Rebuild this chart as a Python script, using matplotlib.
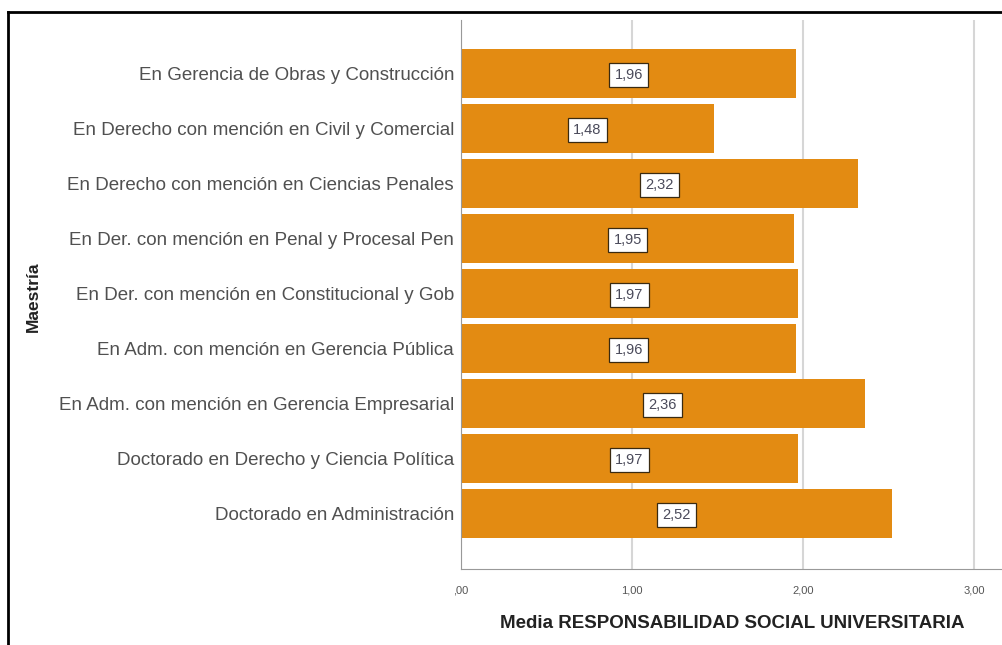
import matplotlib
matplotlib.use("Agg")
import matplotlib.pyplot as plt
from matplotlib.lines import Line2D

plt.rcParams['font.family'] = ['Liberation Sans', 'DejaVu Sans']

categorias = [
    "En Gerencia de Obras y Construcción",
    "En Derecho con mención en Civil y Comercial",
    "En Derecho con mención en Ciencias Penales",
    "En Der. con mención en Penal y Procesal Pen",
    "En Der. con mención en Constitucional y Gob",
    "En Adm. con mención en Gerencia Pública",
    "En Adm. con mención en Gerencia Empresarial",
    "Doctorado en Derecho y Ciencia Política",
    "Doctorado en Administración",
]
medias = [1.96, 1.48, 2.32, 1.95, 1.97, 1.96, 2.36, 1.97, 2.52]
ticks_x = [0, 1, 2, 3]
ticks_lbl = [",00", "1,00", "2,00", "3,00"]

W, H = 1003, 645
fig = plt.figure(figsize=(W / 100, H / 100), dpi=100)
ax = fig.add_axes([461 / W, 1 - 569 / H, (W - 461) / W, (569 - 20) / H])

pos = list(range(len(categorias)))
ax.barh(pos, medias, height=0.89, color="#E38B12", zorder=2)
for p, v in zip(pos, medias):
    ax.text(v / 2, p, f"{v:.2f}".replace(".", ","), ha="center", va="center_baseline",
            fontsize=10.5, color="#4a4a5a", zorder=3,
            bbox=dict(boxstyle="square,pad=0.35", fc="white", ec="#3a2a10", lw=0.9))

ax.set_ylim(len(categorias) - 1 + 1.01, -0.97)
ax.set_xlim(0, (W - 461) / 171.0)
ax.set_yticks(pos)
ax.set_yticklabels(categorias, fontsize=13.5, color="#505050")
ax.set_xticks(ticks_x)
ax.set_xticklabels(ticks_lbl, fontsize=8, color="#555555")
ax.tick_params(axis="both", length=0)
ax.tick_params(axis="y", pad=5)
ax.tick_params(axis="x", pad=12)
ax.xaxis.grid(True, color="#d6d6d6", lw=1.5, zorder=0)
ax.set_axisbelow(True)
for s in ["top", "right"]:
    ax.spines[s].set_visible(False)
ax.spines["left"].set_color("#999999")
ax.spines["bottom"].set_color("#999999")

ax.set_xlabel("Media RESPONSABILIDAD SOCIAL UNIVERSITARIA", fontsize=13.5,
              fontweight="bold", color="#222222", labelpad=14)
fig.text(33 / W, 1 - 297 / H, "Maestría", rotation=90, ha="center", va="center",
         fontsize=12.5, fontweight="bold", color="#222222")

# marco negro
fig.add_artist(Line2D([8 / W, 8 / W], [0, 1 - 12 / H], color="black", lw=2,
                      transform=fig.transFigure))
fig.add_artist(Line2D([8 / W, 1], [1 - 12 / H, 1 - 12 / H], color="black", lw=2,
                      transform=fig.transFigure))

fig.savefig("out.png", dpi=100)
